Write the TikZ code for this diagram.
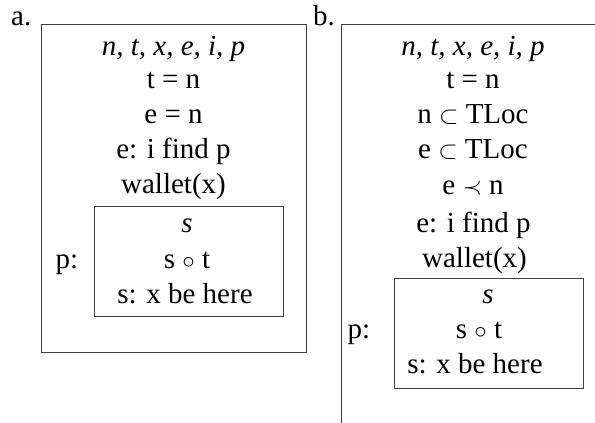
\documentclass[tikz,border=0pt]{standalone}
\usepackage{fontspec}
\setmainfont{Liberation Serif}
\begin{document}
\begin{tikzpicture}[x=1pt,y=-1pt,
  txt/.style={anchor=base,inner sep=0pt,font=\fontsize{29}{35}\selectfont},
  boxline/.style={draw=black!75,line width=0.9pt}]
\useasboundingbox (0,0) rectangle (595,423);
% panel a
\node[txt,anchor=base west] (la) at (11,25) {a.};
\draw[boxline] (41,24) rectangle (306,352);
\node[txt] (a1) at (173.5,55) {\textit{n, t, x, e, i, p}};
\node[txt] (a2) at (173.5,88) {t = n};
\node[txt] (a3) at (173.5,123) {e = n};
\node[txt] (a4) at (173.5,158) {e: i find p};
\node[txt] (a5) at (173.5,193) {wallet(x)};
\draw[boxline] (94,206) rectangle (283,316);
\node[txt] (ap) at (67,268) {p:};
\node[txt] (a6) at (187,232) {\textit{s}};
\node[txt] (a7) at (187,268) {s $\circ$ t};
\node[txt] (a8) at (185,303) {s: x be here};
% panel b
\node[txt,anchor=base west] (lb) at (313,25) {b.};
\draw[boxline] (595,24) -- (341,24) -- (341,423);
\node[txt] (b1) at (473,55) {\textit{n, t, x, e, i, p}};
\node[txt] (b2) at (473,88) {t = n};
\node[txt] (b3) at (473,123) {n $\subset$ TLoc};
\node[txt] (b4) at (473,158) {e $\subset$ TLoc};
\node[txt] (b5) at (473,194) {e $\prec$ n};
\node[txt] (b6) at (473.5,232) {e: i find p};
\node[txt] (b7) at (474.5,267) {wallet(x)};
\draw[boxline] (394,278) rectangle (583,388);
\node[txt] (bp) at (359,338) {p:};
\node[txt] (b8) at (488,303) {\textit{s}};
\node[txt] (b9) at (479,338) {s $\circ$ t};
\node[txt] (b10) at (475,373) {s: x be here};
\end{tikzpicture}
\end{document}
